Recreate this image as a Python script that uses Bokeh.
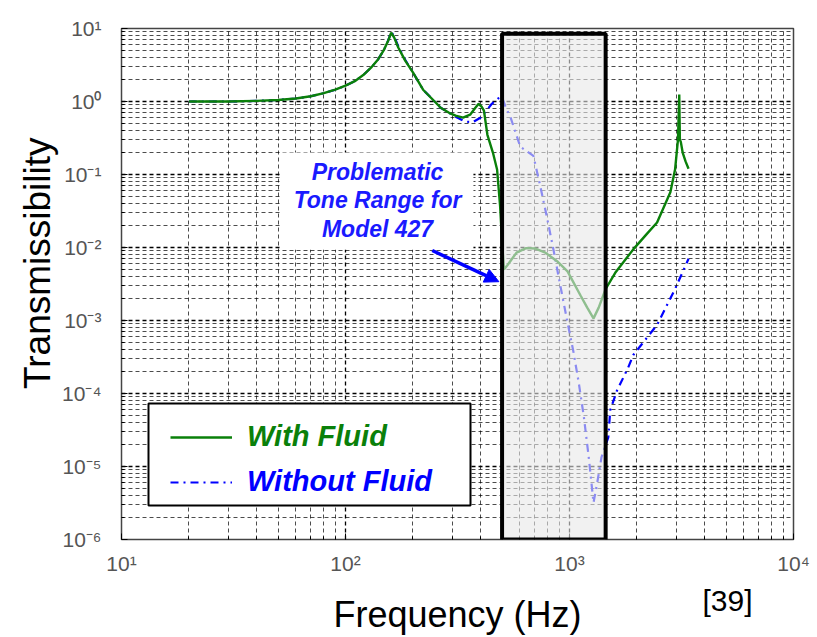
from bokeh.plotting import figure
from bokeh.models import (FixedTicker, CustomJSTickFormatter, BoxAnnotation, Label, Title,
                          Arrow, NormalHead, Legend, LegendItem, Range1d)
from bokeh.embed import file_html
from bokeh.resources import INLINE

# ---- data ----
freq_with = [20, 30, 40, 50, 60, 70, 80, 90, 100, 110, 120, 130, 140, 148, 155, 160, 165,
             172, 185, 200, 222, 250, 266, 290, 310, 335, 360, 380, 393, 405, 415, 430,
             455, 475, 490, 500, 510, 530, 580, 640, 700, 780, 880, 980, 1120, 1200, 1280,
             1350, 1450, 1600, 1930, 2200, 2460, 2820, 2960, 3050, 3090, 3110, 3140, 3200,
             3300, 3400]
trans_with = [1.0, 1.0, 1.02, 1.05, 1.1, 1.18, 1.3, 1.45, 1.65, 1.9, 2.3, 2.9, 3.8, 5.0, 6.8,
              8.8, 7.5, 5.5, 3.6, 2.5, 1.45, 1.0, 0.82, 0.7, 0.64, 0.6, 0.66, 0.82, 0.93,
              0.85, 0.75, 0.35, 0.2, 0.117, 0.037, 0.012, 0.005, 0.0058, 0.0085, 0.0098,
              0.0097, 0.0085, 0.0065, 0.0047, 0.0022, 0.0015, 0.00107, 0.0015, 0.0027,
              0.0045, 0.0095, 0.015, 0.022, 0.057, 0.117, 0.3, 1.25, 0.3, 0.28, 0.2, 0.15,
              0.12]

freq_without = [20, 30, 40, 50, 60, 70, 80, 90, 100, 110, 120, 130, 140, 148, 155, 160, 165,
                172, 185, 200, 222, 250, 266, 290, 310, 343, 370, 400, 430, 450, 480, 500,
                518, 546, 603, 690, 740, 795, 850, 910, 970, 1040, 1100, 1160, 1220, 1280,
                1330, 1390, 1490, 1520, 1630, 1820, 1930, 2460, 2960, 3400]
trans_without = [1.0, 1.0, 1.02, 1.05, 1.1, 1.18, 1.3, 1.45, 1.65, 1.9, 2.3, 2.9, 3.8, 5.0,
                 6.8, 9.0, 7.8, 5.7, 3.7, 2.5, 1.45, 1.0, 0.82, 0.7, 0.62, 0.53, 0.52, 0.6,
                 0.78, 0.93, 1.1, 1.15, 0.85, 0.6, 0.24, 0.18, 0.07, 0.025, 0.009, 0.003,
                 0.0011, 3.8e-4, 1.4e-4, 4.7e-5, 1.3e-5, 3.2e-6, 6e-6, 1.35e-5, 2.5e-5,
                 5.9e-5, 1.1e-4, 2.2e-4, 3.4e-4, 8.7e-4, 2.7e-3, 7e-3]

x_major_ticks = [10, 100, 1000, 10000]
y_major_ticks = [1e-6, 1e-5, 1e-4, 1e-3, 1e-2, 1e-1, 1, 10]
band_lo, band_hi = 500, 1450        # "problematic tone range" (Hz)

GREEN = "#0a800a"
BLUE = "#0000ff"
FONT = "Liberation Sans"

x_minor = [m * 10 ** e for e in range(1, 4) for m in range(2, 10)]
y_minor = [m * 10.0 ** e for e in range(-6, 1) for m in range(2, 10)]

p = figure(width=817, height=637, x_axis_type="log", y_axis_type="log",
           x_range=Range1d(10, 10000), y_range=Range1d(1e-6, 10),
           output_backend="svg", toolbar_location=None,
           min_border_left=121, min_border_right=24, min_border_top=28, min_border_bottom=94,
           background_fill_color="white", border_fill_color="white")
p.outline_line_color = "#444444"
p.outline_line_width = 1.5

p.xaxis.ticker = FixedTicker(ticks=x_major_ticks, minor_ticks=x_minor)
p.yaxis.ticker = FixedTicker(ticks=y_major_ticks, minor_ticks=y_minor)
sup = CustomJSTickFormatter(code="""
const e = Math.round(Math.log10(tick));
const m = {'0':'\u2070','1':'\u00b9','2':'\u00b2','3':'\u00b3','4':'\u2074','5':'\u2075',
           '6':'\u2076','7':'\u2077','8':'\u2078','9':'\u2079','-':'\u207b'};
return '10' + String(e).split('').map(c => m[c]).join('');
""")
p.xaxis.formatter = sup
p.yaxis.formatter = sup

for ax in (p.xaxis[0], p.yaxis[0]):
    ax.axis_line_color = None
    ax.major_tick_in = 6
    ax.major_tick_out = 0
    ax.minor_tick_in = 3
    ax.minor_tick_out = 0
    ax.major_tick_line_color = "black"
    ax.minor_tick_line_color = "black"
    ax.major_label_text_font = FONT
    ax.major_label_text_font_size = "21px"
    ax.major_label_text_color = "#555555"
    ax.axis_label_text_font = FONT
    ax.axis_label_text_font_style = "normal"
    ax.axis_label_text_font_size = "36px"
    ax.axis_label_text_color = "black"

p.xaxis.axis_label = "Frequency (Hz)"
p.xaxis.major_label_standoff = 12
p.xaxis.axis_label_standoff = 16
p.yaxis.major_label_standoff = 20

# y-axis title, off-centre like the reference (shifted towards the top)
p.add_layout(Title(text="Transmissibility", align="right", offset=109, standoff=4,
                   text_font=FONT, text_font_style="normal", text_font_size="37px",
                   text_color="black"), "left")
# source tag under the plot, right side
p.add_layout(Title(text="[39]", align="right", offset=41, vertical_align="top",
                   standoff=-108, text_font=FONT, text_font_style="normal",
                   text_font_size="30px", text_color="black"), "below")

for g in (p.xgrid[0], p.ygrid[0]):
    g.grid_line_color = "black"
    g.grid_line_dash = "4 3"
    g.grid_line_alpha = 1.0
    g.grid_line_width = 1.3
    g.minor_grid_line_color = "black"
    g.minor_grid_line_dash = "4 3"
    g.minor_grid_line_alpha = 0.7

r_wo = p.line(freq_without, trans_without, line_color=BLUE, line_width=2.2,
              line_dash="8 5 2 5")
r_w = p.line(freq_with, trans_with, line_color=GREEN, line_width=2.4)

# shaded band
p.add_layout(BoxAnnotation(left=band_lo, right=band_hi, bottom=1e-6, top=8.5,
                           fill_color="#e8e8e8", fill_alpha=0.6,
                           line_color="black", line_alpha=1.0, line_width=4))

# annotation text + arrow
p.add_layout(Label(x=139, y=0.2, text="Problematic\nTone Range for\nModel 427",
                   text_align="center", text_baseline="top", text_font=FONT,
                   text_font_style="bold italic", text_font_size="23px",
                   text_color="#1a1aff", text_line_height=1.1,
                   background_fill_color="white",
                   padding=dict(left=12, right=12, top=6, bottom=8)))
p.add_layout(Arrow(end=NormalHead(size=14, fill_color=BLUE, line_color=BLUE),
                   x_start=244, y_start=0.0091, x_end=484, y_end=0.0034,
                   line_color=BLUE, line_width=3.5))

# legend frame
p.add_layout(BoxAnnotation(left=27, right=349, bottom=34, top=136,
                           left_units="screen", right_units="screen",
                           bottom_units="screen", top_units="screen",
                           fill_color="white", fill_alpha=1.0,
                           line_color="black", line_alpha=1.0, line_width=2))

def make_legend(item, color, loc):
    lg = Legend(items=[item], location=loc, padding=0, margin=0,
                border_line_color=None, background_fill_alpha=0,
                glyph_width=62, glyph_height=30, label_height=30, label_standoff=15,
                label_text_font=FONT, label_text_font_style="bold italic",
                label_text_font_size="29px", label_text_color=color)
    p.add_layout(lg)

make_legend(LegendItem(label="With Fluid", renderers=[r_w]), GREEN, (49, 86))
make_legend(LegendItem(label="Without Fluid", renderers=[r_wo]), BLUE, (49, 41))

open("out.html", "w").write(file_html(p, INLINE))
